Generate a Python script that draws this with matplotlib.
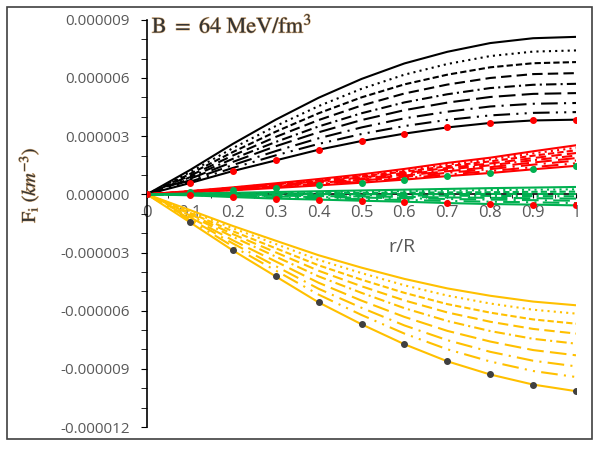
import numpy as np
import matplotlib
matplotlib.use("Agg")
import matplotlib.pyplot as plt
import matplotlib.patheffects as pe
from matplotlib.patches import Rectangle
from matplotlib.ticker import MultipleLocator, FormatStrFormatter

plt.rcParams["mathtext.fontset"] = "stix"

r = [0, 0.1, 0.2, 0.3, 0.4, 0.5, 0.6, 0.7, 0.8, 0.9, 1.0]

# values in units of 1e-6 km^-3
black = [
    [0, 1.25, 2.60, 3.85, 4.98, 5.95, 6.75, 7.35, 7.80, 8.05, 8.12],
    [0, 1.14, 2.38, 3.52, 4.55, 5.44, 6.17, 6.72, 7.13, 7.36, 7.42],
    [0, 1.05, 2.18, 3.23, 4.18, 5.00, 5.67, 6.17, 6.55, 6.76, 6.82],
    [0, 0.96, 2.00, 2.96, 3.83, 4.58, 5.20, 5.66, 6.00, 6.20, 6.25],
    [0, 0.88, 1.83, 2.70, 3.50, 4.18, 4.74, 5.16, 5.48, 5.65, 5.70],
    [0, 0.80, 1.67, 2.48, 3.20, 3.83, 4.34, 4.73, 5.02, 5.18, 5.22],
    [0, 0.73, 1.51, 2.23, 2.89, 3.45, 3.92, 4.26, 4.53, 4.67, 4.71],
    [0, 0.65, 1.36, 2.01, 2.60, 3.11, 3.52, 3.84, 4.07, 4.20, 4.24],
    [0, 0.58, 1.20, 1.75, 2.30, 2.75, 3.13, 3.45, 3.68, 3.81, 3.85],
]
red = [
    [0, 0.17, 0.36, 0.57, 0.79, 1.03, 1.31, 1.62, 1.89, 2.22, 2.53],
    [0, 0.16, 0.34, 0.54, 0.75, 0.98, 1.24, 1.53, 1.80, 2.11, 2.40],
    [0, 0.15, 0.32, 0.51, 0.71, 0.93, 1.17, 1.45, 1.70, 1.99, 2.27],
    [0, 0.14, 0.30, 0.48, 0.67, 0.87, 1.10, 1.36, 1.59, 1.87, 2.13],
    [0, 0.14, 0.29, 0.45, 0.63, 0.82, 1.03, 1.28, 1.50, 1.76, 2.00],
    [0, 0.13, 0.27, 0.42, 0.59, 0.76, 0.97, 1.19, 1.40, 1.64, 1.87],
    [0, 0.12, 0.25, 0.39, 0.54, 0.71, 0.90, 1.11, 1.30, 1.53, 1.74],
    [0, 0.11, 0.23, 0.36, 0.50, 0.65, 0.83, 1.02, 1.20, 1.40, 1.60],
    [0, 0.10, 0.21, 0.33, 0.46, 0.60, 0.76, 0.94, 1.10, 1.29, 1.47],
]
green = [
    [0, 0.04, 0.08, 0.12, 0.16, 0.20, 0.24, 0.28, 0.32, 0.35, 0.38],
    [0, 0.03, 0.06, 0.08, 0.11, 0.14, 0.16, 0.19, 0.22, 0.24, 0.26],
    [0, 0.01, 0.03, 0.04, 0.06, 0.07, 0.09, 0.10, 0.11, 0.13, 0.14],
    [0, 0.00, 0.00, 0.01, 0.01, 0.01, 0.01, 0.01, 0.02, 0.02, 0.02],
    [0, -0.01, -0.02, -0.03, -0.04, -0.05, -0.06, -0.07, -0.08, -0.09, -0.10],
    [0, -0.02, -0.05, -0.07, -0.09, -0.11, -0.13, -0.16, -0.18, -0.20, -0.22],
    [0, -0.03, -0.07, -0.11, -0.14, -0.17, -0.20, -0.24, -0.27, -0.30, -0.33],
    [0, -0.04, -0.10, -0.16, -0.20, -0.25, -0.29, -0.34, -0.38, -0.41, -0.45],
    [0, -0.05, -0.14, -0.22, -0.27, -0.33, -0.38, -0.45, -0.50, -0.53, -0.57],
]
yellow = [
    [0, -0.81, -1.63, -2.39, -3.14, -3.78, -4.36, -4.85, -5.23, -5.53, -5.72],
    [0, -0.87, -1.75, -2.56, -3.38, -4.06, -4.69, -5.22, -5.63, -5.95, -6.15],
    [0, -0.95, -1.90, -2.78, -3.66, -4.40, -5.08, -5.66, -6.10, -6.45, -6.67],
    [0, -1.02, -2.05, -2.99, -3.94, -4.74, -5.47, -6.09, -6.57, -6.94, -7.18],
    [0, -1.09, -2.19, -3.21, -4.23, -5.08, -5.87, -6.53, -7.05, -7.45, -7.70],
    [0, -1.18, -2.37, -3.46, -4.56, -5.48, -6.32, -7.04, -7.59, -8.03, -8.30],
    [0, -1.26, -2.53, -3.70, -4.87, -5.85, -6.76, -7.52, -8.12, -8.58, -8.87],
    [0, -1.34, -2.68, -3.93, -5.17, -6.22, -7.18, -7.99, -8.62, -9.11, -9.42],
    [0, -1.44, -2.89, -4.23, -5.57, -6.70, -7.73, -8.61, -9.29, -9.81, -10.15],
]

styles = [
    "-",
    (0, (1, 2)),
    (0, (3, 1.5)),
    (0, (5, 2.5)),
    (0, (5, 2, 1, 2)),
    (0, (8, 3)),
    (0, (8, 3, 1, 3)),
    (0, (8, 3, 1, 3, 1, 3)),
    "-",
]

groups = [
    (black, "black", "#ff0000"),
    (yellow, "#ffc000", "#404040"),
    (red, "#ff0000", "#00b050"),
    (green, "#00b050", "#ff0000"),
]

fig = plt.figure(figsize=(6, 4.5), dpi=100)
ax = fig.add_axes([0.245, 0.051, 0.715, 0.905])

for series, col, mcol in groups:
    for i, vals in enumerate(series):
        y = np.array(vals) * 1e-6
        if i == len(series) - 1:
            ax.plot(r, y, ls=styles[i], color=col, lw=1.5, marker="o",
                    ms=4, mfc=mcol, mec=mcol, zorder=3)
        else:
            ax.plot(r, y, ls=styles[i], color=col, lw=1.5, zorder=3)

ax.set_xlim(0, 1)
ax.set_ylim(-12e-6, 9e-6)
ax.spines["top"].set_visible(False)
ax.spines["right"].set_visible(False)
ax.spines["bottom"].set_position(("data", 0))
ax.spines["left"].set_linewidth(1.2)
ax.spines["bottom"].set_linewidth(1.2)

ax.xaxis.set_major_locator(MultipleLocator(0.1))
ax.xaxis.set_minor_locator(MultipleLocator(0.05))
ax.xaxis.set_major_formatter(FormatStrFormatter("%g"))
ax.yaxis.set_major_locator(MultipleLocator(3e-6))
ax.yaxis.set_minor_locator(MultipleLocator(1e-6))
ax.yaxis.set_major_formatter(FormatStrFormatter("%.6f"))

ax.tick_params(axis="x", which="both", direction="out", length=3, pad=5,
               labelsize=12, labelcolor="#595959")
ax.tick_params(axis="y", which="both", direction="out", length=4.5, pad=8,
               labelsize=11, labelcolor="#595959")
for lab in ax.get_xticklabels() + ax.get_yticklabels():
    lab.set_fontfamily("Open Sans")

ax.text(0.594, -2.73e-6, "r/R", fontsize=14, color="#595959",
        family="Open Sans", ha="center", va="center")

glow = [pe.withStroke(linewidth=0.8, foreground="#d8b080")]
fig.text(0.253, 0.943, r"$\mathrm{B\ =\ 64\ MeV/fm^3}$", fontsize=16,
         color="#333333", ha="left", va="center", path_effects=glow)
fig.text(0.048, 0.589, r"$\mathrm{F_i}\ (km^{-3})$", fontsize=14,
         color="#333333", rotation=90, ha="center", va="center",
         path_effects=glow)

fig.patches.append(Rectangle((7 / 600, 1 - 439 / 450), 585 / 600, 432 / 450,
                             transform=fig.transFigure, fill=False,
                             edgecolor="#404040", lw=1.2))

fig.savefig("out.png", dpi=100)
